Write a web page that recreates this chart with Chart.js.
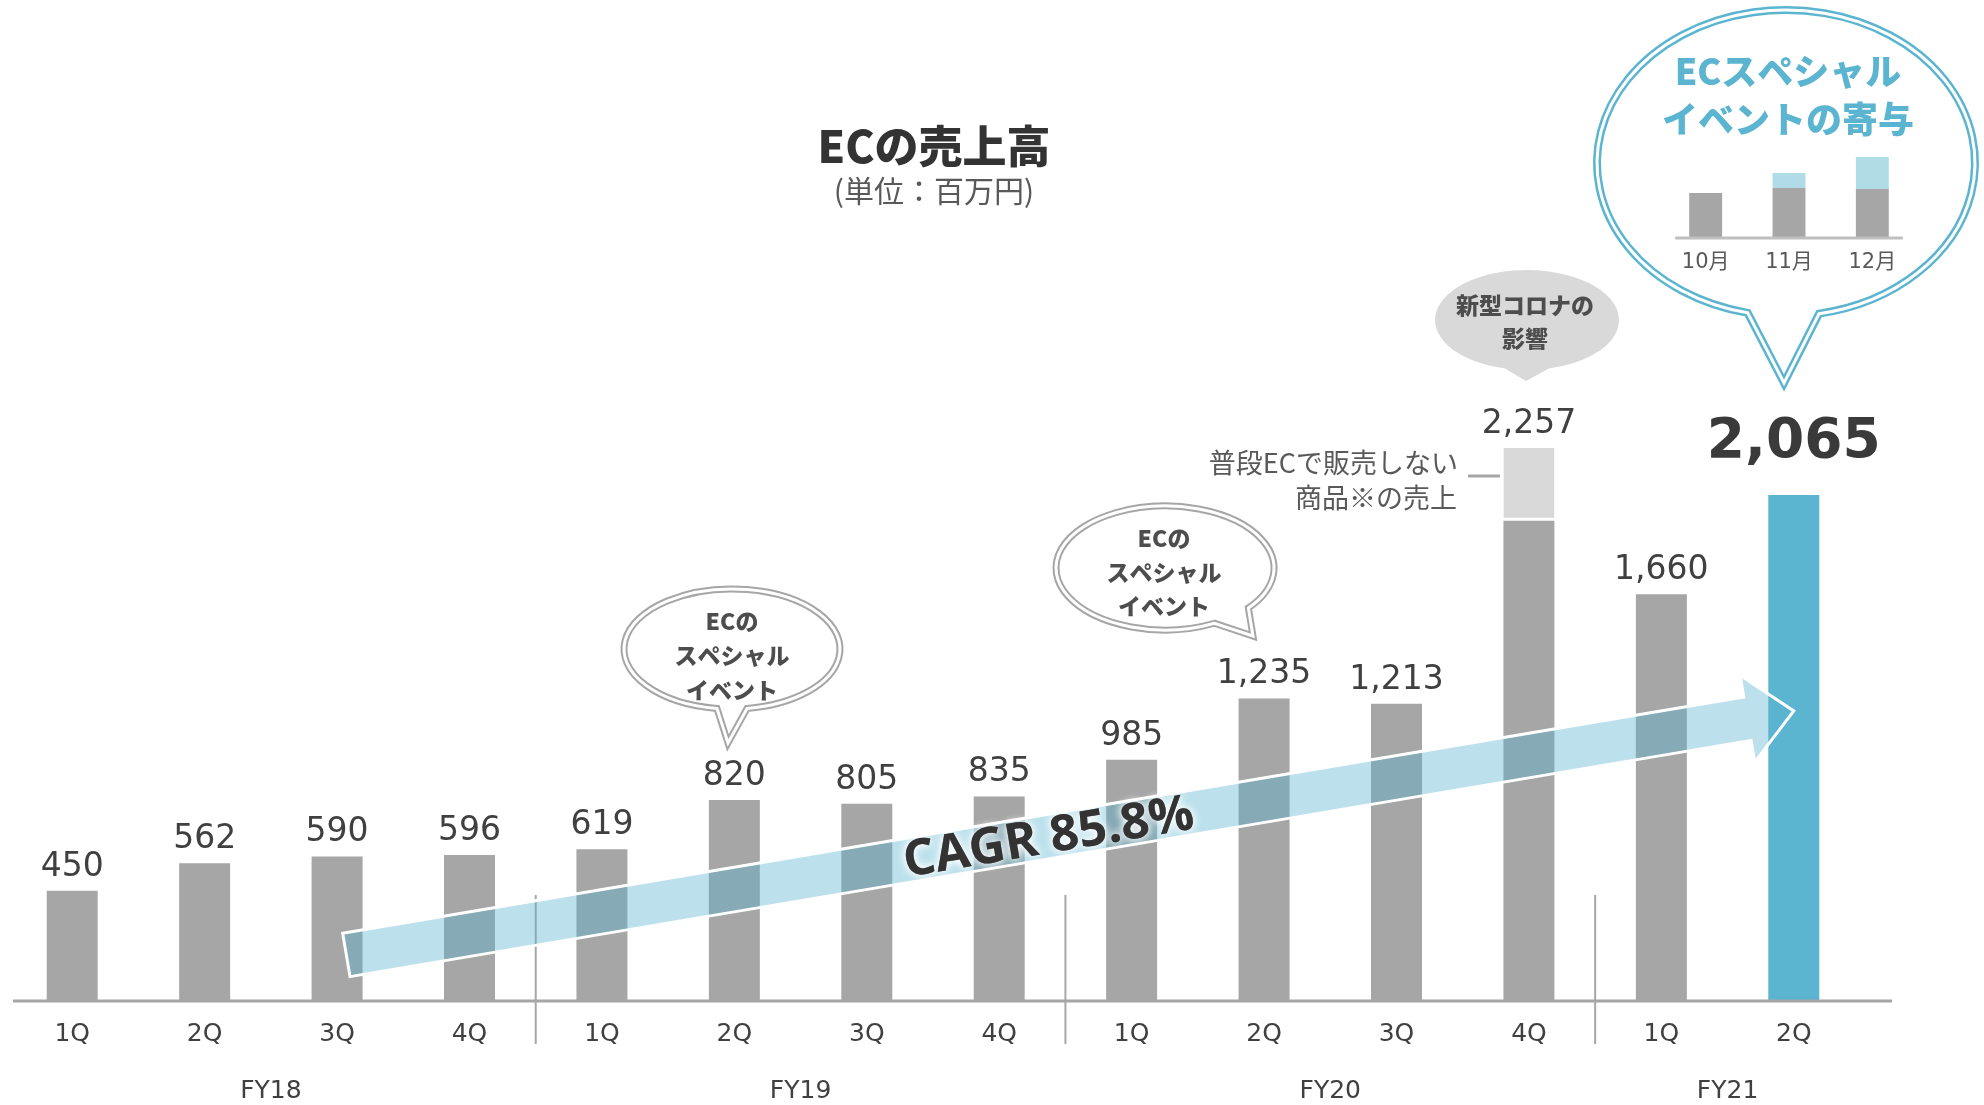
<!DOCTYPE html>
<html lang="ja">
<head>
<meta charset="utf-8">
<title>ECの売上高</title>
<script src="https://cdn.jsdelivr.net/npm/chart.js@4.4.1/dist/chart.umd.min.js"></script>
<style>
  html, body { margin: 0; padding: 0; background: #fff; }
  #wrap { position: relative; width: 1984px; height: 1105px; }
  #mainChart { position: absolute; left: 0; top: 0; }
  #miniChart { position: absolute; left: 1664px; top: 140px; }
</style>
</head>
<body>
<div id="wrap">
  <canvas id="mainChart" width="1984" height="1105"></canvas>
  <canvas id="miniChart" width="250" height="140"></canvas>
</div>
<script>
// quarters along the x axis, grouped by fiscal year
const quarters = ['1Q', '2Q', '3Q', '4Q', '1Q', '2Q', '3Q', '4Q', '1Q', '2Q', '3Q', '4Q', '1Q', '2Q'];
const fiscalYears = ['FY18', 'FY19', 'FY20', 'FY21'];
const quartersPerYear = [4, 4, 4, 2];

// EC sales (million yen)
const baseSales = [450, 562, 590, 596, 619, 820, 805, 835, 985, 1235, 1213, 1960, 1660, 2065];
// items not normally sold on EC (FY20 4Q)
const extraSales = [0, 0, 0, 0, 0, 0, 0, 0, 0, 0, 0, 297, 0, 0];

// inset chart: Oct - Dec, special event share
const months = ['10月', '11月', '12月'];
const monthBase = [45, 50, 49];
const monthEvent = [0, 15, 32];

const cagrText = 'CAGR 85.8%';

const GRAY = '#a6a6a6';
const BLUE = '#5bb5d0';
const LIGHT = '#d9d9d9';
const LIGHT_BLUE = '#b0dce8';
const TEXT = '#404040';
const NUM_FONT = '"DejaVu Sans", "Noto Sans CJK JP"';
const JP_FONT = '"Noto Sans CJK JP", "DejaVu Sans"';
const lastIdx = baseSales.length - 1;

// speech bubble: ellipse with a tail (angle th +- d) to a tip
function bubblePath(ctx, b) {
  ctx.beginPath();
  ctx.ellipse(b.cx, b.cy, b.rx, b.ry, 0, b.th + b.d, b.th - b.d + Math.PI * 2, false);
  ctx.lineTo(b.tip[0], b.tip[1]);
  ctx.closePath();
}

function drawBubble(ctx, b) {
  ctx.save();
  bubblePath(ctx, b);
  ctx.fillStyle = b.fill;
  ctx.fill();
  if (b.line) {
    ctx.lineJoin = 'miter';
    ctx.strokeStyle = b.line;
    ctx.lineWidth = b.outer;
    ctx.stroke();
    ctx.strokeStyle = '#fff';
    ctx.lineWidth = b.inner;
    ctx.stroke();
  }
  ctx.fillStyle = b.color;
  ctx.font = b.font;
  ctx.textAlign = 'center';
  ctx.textBaseline = 'middle';
  b.lines.forEach((t, i) => ctx.fillText(t, b.tx, b.ty[i]));
  ctx.restore();
}

const callouts = [
  { cx: 732, cy: 649, rx: 108, ry: 60, th: Math.PI / 2, d: 0.14, tip: [728, 743],
    fill: '#fff', line: GRAY, outer: 7, inner: 3, color: '#4d4d4d', font: '900 23px ' + JP_FONT,
    lines: ['ECの', 'スペシャル', 'イベント'], tx: 732, ty: [621, 655, 690] },
  { cx: 1165, cy: 568, rx: 109, ry: 62, th: 0.9, d: 0.2, tip: [1253, 636],
    fill: '#fff', line: GRAY, outer: 7, inner: 3, color: '#4d4d4d', font: '900 23px ' + JP_FONT,
    lines: ['ECの', 'スペシャル', 'イベント'], tx: 1164, ty: [538, 572, 606] },
  { cx: 1527, cy: 320, rx: 92, ry: 50, th: Math.PI / 2, d: 0.24, tip: [1526, 381],
    fill: LIGHT, line: null, color: '#4d4d4d', font: '900 23px ' + JP_FONT,
    lines: ['新型コロナの', '影響'], tx: 1525, ty: [305, 338] },
  { cx: 1786, cy: 163, rx: 189, ry: 153, th: 1.585, d: 0.19, tip: [1784, 383],
    fill: '#fff', line: BLUE, outer: 8, inner: 3, color: BLUE, font: '900 36px ' + JP_FONT,
    lines: ['ECスペシャル', 'イベントの寄与'], tx: 1788, ty: [71, 119] }
];

const decorations = {
  id: 'decorations',
  afterDatasetsDraw(chart) {
    const ctx = chart.ctx;
    const x = chart.scales.x, y = chart.scales.y;
    const area = chart.chartArea;
    const base = y.getPixelForValue(0);

    ctx.save();
    // axis line
    ctx.strokeStyle = GRAY;
    ctx.lineWidth = 3;
    ctx.beginPath();
    ctx.moveTo(area.left + 7, base);
    ctx.lineTo(area.right + 32, base);
    ctx.stroke();

    // fiscal year separators and labels
    let start = 0;
    ctx.font = '25px ' + NUM_FONT;
    ctx.fillStyle = TEXT;
    ctx.textAlign = 'center';
    ctx.textBaseline = 'middle';
    fiscalYears.forEach((fy, k) => {
      const end = start + quartersPerYear[k] - 1;
      ctx.fillText(fy, (x.getPixelForValue(start) + x.getPixelForValue(end)) / 2, base + 90);
      if (k > 0) {
        const sx = (x.getPixelForValue(start - 1) + x.getPixelForValue(start)) / 2;
        ctx.lineWidth = 2;
        ctx.beginPath();
        ctx.moveTo(sx, base - 106);
        ctx.lineTo(sx, base + 43);
        ctx.stroke();
      }
      start = end + 1;
    });

    // CAGR arrow
    const sx = x.getPixelForValue(2.07), sy = y.getPixelForValue(188);
    const tx = x.getPixelForValue(13), ty = y.getPixelForValue(1184);
    const len = Math.hypot(tx - sx, ty - sy);
    const ux = (tx - sx) / len, uy = (ty - sy) / len;
    const nx = -uy, ny = ux;
    const h = 22, H = 44, L = 47;
    const bx = tx - ux * L, by = ty - uy * L;
    ctx.beginPath();
    ctx.moveTo(sx + nx * h, sy + ny * h);
    ctx.lineTo(bx + nx * h, by + ny * h);
    ctx.lineTo(bx + nx * H, by + ny * H);
    ctx.lineTo(tx, ty);
    ctx.lineTo(bx - nx * H, by - ny * H);
    ctx.lineTo(bx - nx * h, by - ny * h);
    ctx.lineTo(sx - nx * h, sy - ny * h);
    ctx.closePath();
    ctx.fillStyle = 'rgba(91,181,208,0.4)';
    ctx.fill();
    ctx.strokeStyle = '#fff';
    ctx.lineWidth = 3;
    ctx.lineJoin = 'miter';
    ctx.stroke();

    ctx.save();
    ctx.translate(sx + (tx - sx) * 0.485, sy + (ty - sy) * 0.485);
    ctx.rotate(Math.atan2(uy, ux));
    ctx.font = 'bold 50px "Open Sans", "DejaVu Sans"';
    ctx.textAlign = 'center';
    ctx.textBaseline = 'middle';
    ctx.shadowColor = 'rgba(255,255,255,0.95)';
    ctx.shadowBlur = 8;
    ctx.fillStyle = '#333';
    ctx.fillText(cagrText, 0, 2);
    ctx.fillText(cagrText, 0, 2);
    ctx.restore();

    // value labels
    const m0 = chart.getDatasetMeta(0), m1 = chart.getDatasetMeta(1);
    baseSales.forEach((v, i) => {
      const total = v + extraSales[i];
      const top = Math.min(m0.data[i].y, m1.data[i].y);
      ctx.textAlign = 'center';
      ctx.textBaseline = 'alphabetic';
      ctx.fillStyle = TEXT;
      if (i === lastIdx) {
        ctx.font = 'bold 55px ' + NUM_FONT;
        ctx.fillStyle = '#3a3a3a';
        ctx.fillText(total.toLocaleString('en-US'), m0.data[i].x, top - 38);
      } else {
        ctx.font = '33px ' + NUM_FONT;
        ctx.fillText(total.toLocaleString('en-US'), m0.data[i].x, top - 15);
      }
    });

    // note for the light grey part of FY20 4Q
    ctx.font = '27px ' + JP_FONT;
    ctx.fillStyle = '#595959';
    ctx.textAlign = 'right';
    ctx.textBaseline = 'middle';
    ctx.fillText('普段ECで販売しない', 1458, 463);
    ctx.fillText('商品※の売上', 1457, 498);
    ctx.strokeStyle = GRAY;
    ctx.lineWidth = 3;
    ctx.beginPath();
    ctx.moveTo(1468, 476);
    ctx.lineTo(1500, 476);
    ctx.stroke();

    // title
    ctx.textAlign = 'center';
    ctx.fillStyle = '#333';
    ctx.font = '900 44px ' + JP_FONT;
    ctx.fillText('ECの売上高', 934, 146);
    ctx.fillStyle = '#595959';
    ctx.font = '30px ' + JP_FONT;
    ctx.fillText('(単位：百万円)', 934, 191);

    callouts.forEach(b => drawBubble(ctx, b));
    ctx.restore();
  }
};

new Chart(document.getElementById('mainChart'), {
  type: 'bar',
  data: {
    labels: quarters,
    datasets: [
      { data: baseSales, backgroundColor: baseSales.map((v, i) => i === lastIdx ? BLUE : GRAY), stack: 's' },
      { data: extraSales, backgroundColor: LIGHT, borderColor: '#fff', borderWidth: { bottom: 3 }, borderSkipped: false, stack: 's' }
    ]
  },
  options: {
    responsive: false,
    animation: false,
    layout: { padding: { top: 359, left: 6, right: 124, bottom: 0 } },
    plugins: { legend: { display: false }, tooltip: { enabled: false } },
    datasets: { bar: { categoryPercentage: 1, barPercentage: 0.385 } },
    scales: {
      x: {
        stacked: true,
        grid: { display: false, drawTicks: false },
        border: { display: false },
        ticks: { color: TEXT, font: { family: NUM_FONT, size: 25 }, padding: 18, autoSkip: false, maxRotation: 0 },
        afterFit: s => { s.height = 104; }
      },
      y: { stacked: true, display: false, min: 0, max: 2620 }
    }
  },
  plugins: [decorations]
});

// inset chart inside the blue bubble
const miniBaseline = {
  id: 'miniBaseline',
  afterDatasetsDraw(chart) {
    const ctx = chart.ctx;
    const bars = chart.getDatasetMeta(0).data;
    const yb = chart.scales.y.getPixelForValue(0);
    ctx.save();
    ctx.strokeStyle = '#bfbfbf';
    ctx.lineWidth = 3;
    ctx.beginPath();
    ctx.moveTo(bars[0].x - bars[0].width / 2 - 14, yb);
    ctx.lineTo(bars[bars.length - 1].x + bars[0].width / 2 + 14, yb);
    ctx.stroke();
    ctx.restore();
  }
};

new Chart(document.getElementById('miniChart'), {
  type: 'bar',
  data: {
    labels: months,
    datasets: [
      { data: monthBase, backgroundColor: GRAY, stack: 'm' },
      { data: monthEvent, backgroundColor: LIGHT_BLUE, stack: 'm' }
    ]
  },
  options: {
    responsive: false,
    animation: false,
    layout: { padding: 0 },
    plugins: { legend: { display: false }, tooltip: { enabled: false } },
    datasets: { bar: { categoryPercentage: 1, barPercentage: 0.395 } },
    scales: {
      x: {
        stacked: true,
        grid: { display: false, drawTicks: false },
        border: { display: false },
        ticks: { color: '#595959', font: { family: NUM_FONT, size: 21 }, padding: 12 },
        afterFit: s => { s.height = 42; }
      },
      y: { stacked: true, display: false, min: 0, max: 98 }
    }
  },
  plugins: [miniBaseline]
});
</script>
</body>
</html>
